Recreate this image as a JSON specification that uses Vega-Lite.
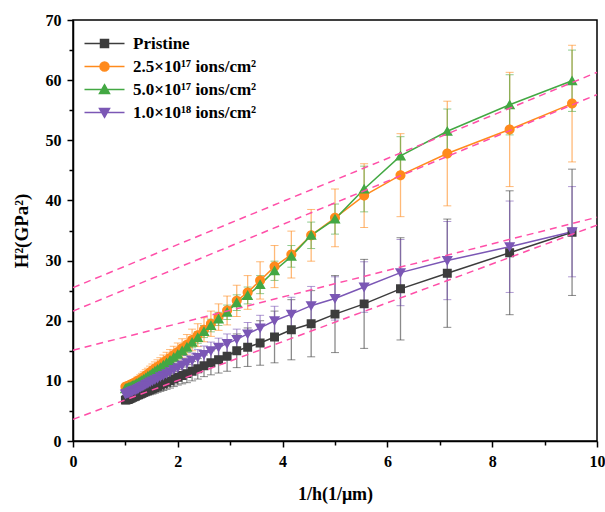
{
  "$schema": "https://vega.github.io/schema/vega-lite/v6.json",
  "width": 524,
  "height": 421,
  "autosize": {"type": "none"},
  "padding": {"left": 73, "top": 20, "right": 8, "bottom": 71},
  "config": {
    "view": {"stroke": "black", "strokeWidth": 1.5},
    "font": "Liberation Serif"
  },
  "datasets": {
    "pts": [
      {"s":"a","x":9.524,"y":34.7,"e":10.5},{"s":"a","x":8.333,"y":31.3,"e":10.3},{"s":"a","x":7.143,"y":27.9,"e":9.0},{"s":"a","x":6.25,"y":25.3,"e":8.5},{"s":"a","x":5.556,"y":22.8,"e":7.4},{"s":"a","x":5.0,"y":21.1,"e":6.4},{"s":"a","x":4.545,"y":19.5,"e":5.5},{"s":"a","x":4.167,"y":18.5,"e":5.0},{"s":"a","x":3.846,"y":17.3,"e":4.3},{"s":"a","x":3.571,"y":16.3,"e":3.7},{"s":"a","x":3.333,"y":15.6,"e":3.2},{"s":"a","x":3.125,"y":15.0,"e":2.8},{"s":"a","x":2.941,"y":14.1,"e":2.5},{"s":"a","x":2.778,"y":13.5,"e":2.2},{"s":"a","x":2.632,"y":13.0,"e":2.0},{"s":"a","x":2.5,"y":12.5,"e":1.8},{"s":"a","x":2.381,"y":12.0,"e":1.7},{"s":"a","x":2.273,"y":11.6,"e":1.6},{"s":"a","x":2.174,"y":11.2,"e":1.5},{"s":"a","x":2.083,"y":10.9,"e":1.4},{"s":"a","x":2.0,"y":10.6,"e":1.3},{"s":"a","x":1.923,"y":10.3,"e":1.25},{"s":"a","x":1.852,"y":10.0,"e":1.2},{"s":"a","x":1.786,"y":9.75,"e":1.15},{"s":"a","x":1.724,"y":9.5,"e":1.1},{"s":"a","x":1.667,"y":9.3,"e":1.05},{"s":"a","x":1.613,"y":9.1,"e":1.0},{"s":"a","x":1.563,"y":8.9,"e":0.95},{"s":"a","x":1.515,"y":8.7,"e":0.9},{"s":"a","x":1.471,"y":8.55,"e":0.85},{"s":"a","x":1.429,"y":8.4,"e":0.8},{"s":"a","x":1.389,"y":8.25,"e":0.75},{"s":"a","x":1.351,"y":8.1,"e":0.7},{"s":"a","x":1.316,"y":7.95,"e":0.65},{"s":"a","x":1.282,"y":7.8,"e":0.6},{"s":"a","x":1.25,"y":7.7,"e":0.55},{"s":"a","x":1.22,"y":7.6,"e":0.5},{"s":"a","x":1.19,"y":7.45,"e":0.5},{"s":"a","x":1.163,"y":7.35,"e":0.45},{"s":"a","x":1.136,"y":7.25,"e":0.45},{"s":"a","x":1.111,"y":7.15,"e":0.4},{"s":"a","x":1.087,"y":7.05,"e":0.4},{"s":"a","x":1.064,"y":6.95,"e":0.35},{"s":"a","x":1.042,"y":6.9,"e":0.35},{"s":"a","x":1.02,"y":6.85,"e":0.3},{"s":"a","x":1.0,"y":6.8,"e":0.3},
      {"s":"b","x":9.524,"y":56.1,"e":9.7},{"s":"b","x":8.333,"y":51.8,"e":9.5},{"s":"b","x":7.143,"y":47.8,"e":8.7},{"s":"b","x":6.25,"y":44.2,"e":6.9},{"s":"b","x":5.556,"y":40.8,"e":5.3},{"s":"b","x":5.0,"y":37.1,"e":4.8},{"s":"b","x":4.545,"y":34.2,"e":4.3},{"s":"b","x":4.167,"y":31.0,"e":3.9},{"s":"b","x":3.846,"y":29.0,"e":3.5},{"s":"b","x":3.571,"y":26.7,"e":3.1},{"s":"b","x":3.333,"y":24.7,"e":2.8},{"s":"b","x":3.125,"y":23.3,"e":2.6},{"s":"b","x":2.941,"y":21.7,"e":2.4},{"s":"b","x":2.778,"y":20.6,"e":2.2},{"s":"b","x":2.632,"y":19.5,"e":2.1},{"s":"b","x":2.5,"y":18.5,"e":2.0},{"s":"b","x":2.381,"y":17.6,"e":1.9},{"s":"b","x":2.273,"y":16.8,"e":1.8},{"s":"b","x":2.174,"y":16.0,"e":1.7},{"s":"b","x":2.083,"y":15.4,"e":1.6},{"s":"b","x":2.0,"y":14.8,"e":1.5},{"s":"b","x":1.923,"y":14.3,"e":1.45},{"s":"b","x":1.852,"y":13.8,"e":1.4},{"s":"b","x":1.786,"y":13.4,"e":1.35},{"s":"b","x":1.724,"y":13.0,"e":1.3},{"s":"b","x":1.667,"y":12.6,"e":1.25},{"s":"b","x":1.613,"y":12.3,"e":1.2},{"s":"b","x":1.563,"y":12.0,"e":1.15},{"s":"b","x":1.515,"y":11.7,"e":1.1},{"s":"b","x":1.471,"y":11.4,"e":1.05},{"s":"b","x":1.429,"y":11.1,"e":1.0},{"s":"b","x":1.389,"y":10.9,"e":0.95},{"s":"b","x":1.351,"y":10.6,"e":0.9},{"s":"b","x":1.316,"y":10.4,"e":0.85},{"s":"b","x":1.282,"y":10.2,"e":0.8},{"s":"b","x":1.25,"y":10.0,"e":0.75},{"s":"b","x":1.22,"y":9.9,"e":0.7},{"s":"b","x":1.19,"y":9.7,"e":0.65},{"s":"b","x":1.163,"y":9.6,"e":0.6},{"s":"b","x":1.136,"y":9.5,"e":0.6},{"s":"b","x":1.111,"y":9.4,"e":0.55},{"s":"b","x":1.087,"y":9.3,"e":0.5},{"s":"b","x":1.064,"y":9.2,"e":0.5},{"s":"b","x":1.042,"y":9.1,"e":0.45},{"s":"b","x":1.02,"y":9.05,"e":0.45},{"s":"b","x":1.0,"y":9.0,"e":0.4},
      {"s":"c","x":9.524,"y":59.9,"e":5.1},{"s":"c","x":8.333,"y":55.9,"e":5.0},{"s":"c","x":7.143,"y":51.5,"e":3.7},{"s":"c","x":6.25,"y":47.4,"e":3.2},{"s":"c","x":5.556,"y":41.9,"e":3.8},{"s":"c","x":5.0,"y":36.9,"e":2.5},{"s":"c","x":4.545,"y":34.2,"e":2.2},{"s":"c","x":4.167,"y":30.7,"e":1.8},{"s":"c","x":3.846,"y":28.3,"e":1.6},{"s":"c","x":3.571,"y":26.0,"e":1.5},{"s":"c","x":3.333,"y":24.2,"e":1.4},{"s":"c","x":3.125,"y":23.0,"e":1.3},{"s":"c","x":2.941,"y":21.4,"e":1.2},{"s":"c","x":2.778,"y":20.3,"e":1.1},{"s":"c","x":2.632,"y":19.2,"e":1.05},{"s":"c","x":2.5,"y":18.2,"e":1.0},{"s":"c","x":2.381,"y":17.2,"e":0.95},{"s":"c","x":2.273,"y":16.4,"e":0.9},{"s":"c","x":2.174,"y":15.6,"e":0.85},{"s":"c","x":2.083,"y":15.0,"e":0.8},{"s":"c","x":2.0,"y":14.4,"e":0.8},{"s":"c","x":1.923,"y":13.9,"e":0.75},{"s":"c","x":1.852,"y":13.4,"e":0.7},{"s":"c","x":1.786,"y":13.0,"e":0.7},{"s":"c","x":1.724,"y":12.6,"e":0.65},{"s":"c","x":1.667,"y":12.2,"e":0.6},{"s":"c","x":1.613,"y":11.9,"e":0.6},{"s":"c","x":1.563,"y":11.6,"e":0.55},{"s":"c","x":1.515,"y":11.3,"e":0.55},{"s":"c","x":1.471,"y":11.0,"e":0.5},{"s":"c","x":1.429,"y":10.8,"e":0.5},{"s":"c","x":1.389,"y":10.5,"e":0.45},{"s":"c","x":1.351,"y":10.3,"e":0.45},{"s":"c","x":1.316,"y":10.1,"e":0.4},{"s":"c","x":1.282,"y":9.9,"e":0.4},{"s":"c","x":1.25,"y":9.7,"e":0.4},{"s":"c","x":1.22,"y":9.6,"e":0.35},{"s":"c","x":1.19,"y":9.4,"e":0.35},{"s":"c","x":1.163,"y":9.3,"e":0.35},{"s":"c","x":1.136,"y":9.2,"e":0.3},{"s":"c","x":1.111,"y":9.1,"e":0.3},{"s":"c","x":1.087,"y":9.0,"e":0.3},{"s":"c","x":1.064,"y":8.9,"e":0.3},{"s":"c","x":1.042,"y":8.8,"e":0.25},{"s":"c","x":1.02,"y":8.75,"e":0.25},{"s":"c","x":1.0,"y":8.7,"e":0.25},
      {"s":"d","x":9.524,"y":34.8,"e":7.5},{"s":"d","x":8.333,"y":32.3,"e":7.6},{"s":"d","x":7.143,"y":30.0,"e":6.5},{"s":"d","x":6.25,"y":28.0,"e":5.5},{"s":"d","x":5.556,"y":25.6,"e":4.2},{"s":"d","x":5.0,"y":23.7,"e":3.6},{"s":"d","x":4.545,"y":22.5,"e":3.2},{"s":"d","x":4.167,"y":21.1,"e":2.8},{"s":"d","x":3.846,"y":20.0,"e":2.4},{"s":"d","x":3.571,"y":18.8,"e":2.1},{"s":"d","x":3.333,"y":17.8,"e":1.9},{"s":"d","x":3.125,"y":16.9,"e":1.7},{"s":"d","x":2.941,"y":16.2,"e":1.6},{"s":"d","x":2.778,"y":15.6,"e":1.5},{"s":"d","x":2.632,"y":15.0,"e":1.45},{"s":"d","x":2.5,"y":14.4,"e":1.4},{"s":"d","x":2.381,"y":13.9,"e":1.3},{"s":"d","x":2.273,"y":13.4,"e":1.25},{"s":"d","x":2.174,"y":13.0,"e":1.2},{"s":"d","x":2.083,"y":12.6,"e":1.15},{"s":"d","x":2.0,"y":12.2,"e":1.1},{"s":"d","x":1.923,"y":11.9,"e":1.05},{"s":"d","x":1.852,"y":11.5,"e":1.0},{"s":"d","x":1.786,"y":11.2,"e":0.95},{"s":"d","x":1.724,"y":10.9,"e":0.9},{"s":"d","x":1.667,"y":10.7,"e":0.85},{"s":"d","x":1.613,"y":10.4,"e":0.8},{"s":"d","x":1.563,"y":10.2,"e":0.8},{"s":"d","x":1.515,"y":10.0,"e":0.75},{"s":"d","x":1.471,"y":9.8,"e":0.7},{"s":"d","x":1.429,"y":9.6,"e":0.65},{"s":"d","x":1.389,"y":9.4,"e":0.65},{"s":"d","x":1.351,"y":9.2,"e":0.6},{"s":"d","x":1.316,"y":9.05,"e":0.55},{"s":"d","x":1.282,"y":8.9,"e":0.55},{"s":"d","x":1.25,"y":8.75,"e":0.5},{"s":"d","x":1.22,"y":8.6,"e":0.5},{"s":"d","x":1.19,"y":8.5,"e":0.45},{"s":"d","x":1.163,"y":8.4,"e":0.45},{"s":"d","x":1.136,"y":8.3,"e":0.4},{"s":"d","x":1.111,"y":8.2,"e":0.4},{"s":"d","x":1.087,"y":8.1,"e":0.35},{"s":"d","x":1.064,"y":8.0,"e":0.35},{"s":"d","x":1.042,"y":7.95,"e":0.3},{"s":"d","x":1.02,"y":7.9,"e":0.3},{"s":"d","x":1.0,"y":7.8,"e":0.3}
    ],
    "fits": [
      {"f":"c","x":0,"y":25.5},{"f":"c","x":10,"y":61.3},
      {"f":"b","x":0,"y":21.6},{"f":"b","x":10,"y":57.6},
      {"f":"d","x":0,"y":15.1},{"f":"d","x":10,"y":37.2},
      {"f":"a","x":0,"y":3.6},{"f":"a","x":10,"y":35.9}
    ]
  },
  "encoding": {
    "x": {
      "field": "x", "type": "quantitative",
      "scale": {"domain": [0, 10], "nice": false},
      "axis": {
        "title": "1/h(1/μm)",
        "orient": "bottom",
        "values": [0,1,2,3,4,5,6,7,8,9,10],
        "labelExpr": "datum.value % 2 === 0 ? datum.label : ''",
        "grid": false,
        "domainColor": "black", "domainWidth": 1.5,
        "tickColor": "black", "tickWidth": 1.5,
        "tickSize": {"condition": {"test": "datum.value % 2 !== 0", "value": 4}, "value": 6},
        "labelFont": "Liberation Serif", "labelFontWeight": "bold", "labelFontSize": 16, "labelColor": "black",
        "labelPadding": 6, "labelFlush": false,
        "titleFont": "Liberation Serif", "titleFontWeight": "bold", "titleFontSize": 18, "titleColor": "black",
        "titlePadding": 16
      }
    },
    "y": {
      "field": "y", "type": "quantitative",
      "scale": {"domain": [0, 70], "nice": false},
      "axis": {
        "title": "H²(GPa²)",
        "orient": "left",
        "values": [0,5,10,15,20,25,30,35,40,45,50,55,60,65,70],
        "labelExpr": "datum.value % 10 === 0 ? datum.label : ''",
        "grid": false,
        "domainColor": "black", "domainWidth": 1.5,
        "tickColor": "black", "tickWidth": 1.5,
        "tickSize": {"condition": {"test": "datum.value % 10 !== 0", "value": 4}, "value": 6},
        "labelFont": "Liberation Serif", "labelFontWeight": "bold", "labelFontSize": 16, "labelColor": "black",
        "labelPadding": 6, "labelFlush": false,
        "titleFont": "Liberation Serif", "titleFontWeight": "bold", "titleFontSize": 19, "titleColor": "black",
        "titlePadding": 14
      }
    }
  },
  "layer": [
    {
      "data": {"name": "pts"},
      "mark": {"type": "errorbar", "ticks": {"size": 8}, "rule": {"strokeWidth": 1.3}, "opacity": 0.6},
      "encoding": {
        "yError": {"field": "e"},
        "color": {"field": "s", "type": "nominal", "scale": {"domain": ["a","b","c","d"], "range": ["#3c3c3c","#ff8a1c","#43a843","#7b57b5"]}}
      }
    },
    {
      "data": {"name": "pts"},
      "mark": {"type": "line", "strokeWidth": 1.5},
      "encoding": {
        "order": {"field": "x", "type": "quantitative"},
        "color": {"field": "s", "type": "nominal"}
      }
    },
    {
      "data": {"name": "pts"},
      "mark": {"type": "point", "filled": true, "size": 80, "opacity": 1},
      "encoding": {
        "color": {
          "field": "s", "type": "nominal",
          "legend": {
            "title": null,
            "orient": "none", "legendX": 23, "legendY": 15,
            "symbolSize": 64,
            "symbolOpacity": 1,
            "labelOffset": 20,
            "rowPadding": 5,
            "labelFont": "Liberation Serif", "labelFontWeight": "bold", "labelFontSize": 17, "labelColor": "black",
            "labelExpr": "datum.value === 'a' ? 'Pristine' : datum.value === 'b' ? '2.5×10¹⁷ ions/cm²' : datum.value === 'c' ? '5.0×10¹⁷ ions/cm²' : '1.0×10¹⁸ ions/cm²'",
            "encode": {"symbols": {"update": {"stroke": {"scale": "color", "field": "value"}, "strokeWidth": {"value": 1.5}, "opacity": {"value": 1}}}}
          }
        },
        "shape": {
          "field": "s", "type": "nominal",
          "scale": {"domain": ["a","b","c","d"], "range": [
            "M-5,0H5M-1,-1H1V1H-1Z",
            "M-5,0H5M1.12,0A1.12,1.12,0,1,1,-1.12,0A1.12,1.12,0,1,1,1.12,0Z",
            "M-5,0H5M0,-1.2L1.25,1H-1.25Z",
            "M-5,0H5M0,1.2L1.25,-1H-1.25Z"
          ]}
        }
      }
    },
    {
      "data": {"name": "fits"},
      "mark": {"type": "line", "color": "#ff4fa8", "strokeDash": [7, 5], "strokeWidth": 1.5},
      "encoding": {
        "detail": {"field": "f", "type": "nominal"}
      }
    }
  ]
}
